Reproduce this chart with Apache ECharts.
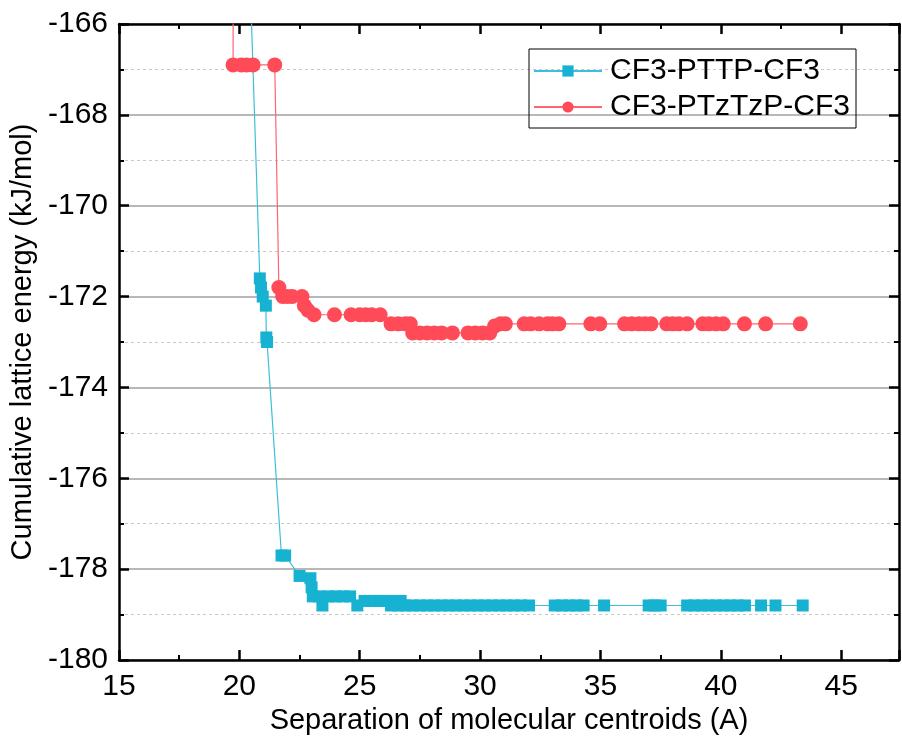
<!DOCTYPE html>
<html>
<head>
    <meta charset="UTF-8">
    <title>Cumulative lattice energy</title>
    <style>
        * { margin: 0; padding: 0; }
        html, body { width: 100%; height: 100%; background: #fff; }
        #chart { width: 902px; height: 742px; }
    </style>
</head>
<body>
    <div id="chart"></div>
    <script src="https://cdn.jsdelivr.net/npm/echarts@6/dist/echarts.min.js"></script>
    <script>
        // values; first point of each series is above the plot top
        const seriesNames = ['CF3-PTTP-CF3', 'CF3-PTzTzP-CF3'];

        const pttpSep = [20.5, 20.85, 20.9, 20.97, 21.1, 21.12, 21.15, 21.75, 21.9, 22.5, 22.95, 23.0, 23.05, 23.45, 23.3, 23.7, 24.0, 24.3, 24.6, 24.9, 25.2, 25.5, 25.8, 26.1, 26.45, 26.7,
            26.3, 26.6, 26.9, 27.2, 27.5, 27.8, 28.1, 28.4, 28.7, 29.0, 29.3, 29.6, 29.9, 30.2, 30.5, 30.8, 31.1, 31.4, 31.7, 32.03,
            33.1, 33.4, 33.7, 34.0, 34.3, 35.15, 37.0, 37.25, 37.5, 38.6, 38.9, 39.2, 39.5, 39.8, 40.1, 40.4, 40.7, 41.0, 41.67, 42.27, 43.4];
        const pttpEnergy = [-165.9, -171.6, -171.8, -172.0, -172.2, -172.9, -173.0, -177.7, -177.7, -178.15, -178.2, -178.4, -178.6, -178.8, -178.6, -178.6, -178.6, -178.6, -178.6, -178.8, -178.7, -178.7, -178.7, -178.7, -178.7, -178.7,
            -178.8, -178.8, -178.8, -178.8, -178.8, -178.8, -178.8, -178.8, -178.8, -178.8, -178.8, -178.8, -178.8, -178.8, -178.8, -178.8, -178.8, -178.8, -178.8, -178.8,
            -178.8, -178.8, -178.8, -178.8, -178.8, -178.8, -178.8, -178.8, -178.8, -178.8, -178.8, -178.8, -178.8, -178.8, -178.8, -178.8, -178.8, -178.8, -178.8, -178.8, -178.8];

        const ptzSep = [19.74, 19.74, 20.08, 20.3, 20.57, 21.47, 21.64, 21.8, 22.0, 22.2, 22.6, 22.7, 22.85, 23.1, 23.95, 24.64, 25.0, 25.25, 25.5, 25.85,
            26.3, 26.6, 26.9, 27.1, 27.2, 27.5, 27.8, 28.1, 28.4, 28.85, 29.5, 29.8, 30.1, 30.4, 30.6, 30.85, 31.05,
            31.83, 32.1, 32.45, 32.8, 33.0, 33.27, 34.6, 34.97, 36.0, 36.3, 36.6, 36.85, 37.1, 37.75, 38.0, 38.25, 38.6, 39.25, 39.5, 39.8, 40.1, 40.98, 41.86, 43.3];
        const ptzEnergy = [-165.9, -166.9, -166.9, -166.9, -166.9, -166.9, -171.8, -172.0, -172.0, -172.0, -172.0, -172.2, -172.3, -172.4, -172.4, -172.4, -172.4, -172.4, -172.4, -172.4,
            -172.6, -172.6, -172.6, -172.6, -172.8, -172.8, -172.8, -172.8, -172.8, -172.8, -172.8, -172.8, -172.8, -172.8, -172.65, -172.6, -172.6,
            -172.6, -172.6, -172.6, -172.6, -172.6, -172.6, -172.6, -172.6, -172.6, -172.6, -172.6, -172.6, -172.6, -172.6, -172.6, -172.6, -172.6, -172.6, -172.6, -172.6, -172.6, -172.6, -172.6, -172.6];

        const pttpData = pttpSep.map((x, i) => [x, pttpEnergy[i]]).sort((a, b) => a[0] - b[0] || b[1] - a[1]);
        const ptzData = ptzSep.map((x, i) => [x, ptzEnergy[i]]);

        const font = 'Liberation Sans, Arial, sans-serif';
        const blue = '#17b2d2';
        const red = '#ff4b57';

        const chart = echarts.init(document.getElementById('chart'), null, { renderer: 'canvas' });

        const axisLine = { show: true, onZero: false, lineStyle: { color: '#000', width: 2.5 } };
        const axisTick = { show: true, inside: true, length: 10, lineStyle: { color: '#000', width: 2.5 } };
        const minorTick = { show: true, splitNumber: 2, length: 5, lineStyle: { color: '#000', width: 2 } };

        chart.setOption({
            backgroundColor: '#fff',
            animation: false,
            grid: { left: 119, right: 3, top: 24, bottom: 82 },
            legend: {
                orient: 'vertical',
                left: 529,
                top: 49,
                padding: [7, 6, 6, 4],
                itemGap: 6,
                itemWidth: 68,
                itemHeight: 14,
                borderColor: '#000',
                borderWidth: 1,
                textStyle: { fontFamily: font, fontSize: 30, color: '#000', padding: [0, 0, 0, 3] },
                data: seriesNames
            },
            xAxis: [{
                type: 'value',
                min: 15,
                max: 47.4,
                interval: 5,
                axisLine: axisLine,
                axisTick: axisTick,
                minorTick: minorTick,
                splitLine: { show: false },
                axisLabel: {
                    fontFamily: font, fontSize: 30, color: '#000', margin: 12,
                    showMaxLabel: false
                },
                name: 'Separation of molecular centroids (A)',
                nameLocation: 'middle',
                nameGap: 43,
                nameTextStyle: { fontFamily: font, fontSize: 29, color: '#000' }
            }, {
                type: 'value',
                position: 'top',
                min: 15,
                max: 47.4,
                interval: 5,
                axisLine: axisLine,
                axisTick: axisTick,
                minorTick: minorTick,
                splitLine: { show: false },
                axisLabel: { show: false }
            }],
            yAxis: [{
                type: 'value',
                min: -180,
                max: -166,
                interval: 2,
                axisLine: axisLine,
                axisTick: axisTick,
                minorTick: minorTick,
                splitLine: { show: true, lineStyle: { color: '#a0a0a0', width: 1.5 } },
                minorSplitLine: { show: true, lineStyle: { color: '#c8c8c8', width: 1, type: [3, 3] } },
                axisLabel: { fontFamily: font, fontSize: 30, color: '#000', margin: 11 },
                name: 'Cumulative lattice energy (kJ/mol)',
                nameLocation: 'middle',
                nameGap: 81,
                nameTextStyle: { fontFamily: font, fontSize: 29, color: '#000' }
            }, {
                type: 'value',
                position: 'right',
                min: -180,
                max: -166,
                interval: 2,
                axisLine: axisLine,
                axisTick: axisTick,
                minorTick: minorTick,
                splitLine: { show: false },
                axisLabel: { show: false }
            }],
            series: [{
                name: seriesNames[0],
                type: 'line',
                data: pttpData,
                symbol: 'rect',
                symbolSize: 12,
                showAllSymbol: true,
                clip: true,
                itemStyle: { color: blue },
                lineStyle: { color: '#3cbfdc', width: 1.2 }
            }, {
                name: seriesNames[1],
                type: 'line',
                data: ptzData,
                symbol: 'circle',
                symbolSize: 15,
                showAllSymbol: true,
                clip: true,
                itemStyle: { color: red },
                lineStyle: { color: '#ff6570', width: 1.2 }
            }]
        });
    </script>
</body>
</html>
